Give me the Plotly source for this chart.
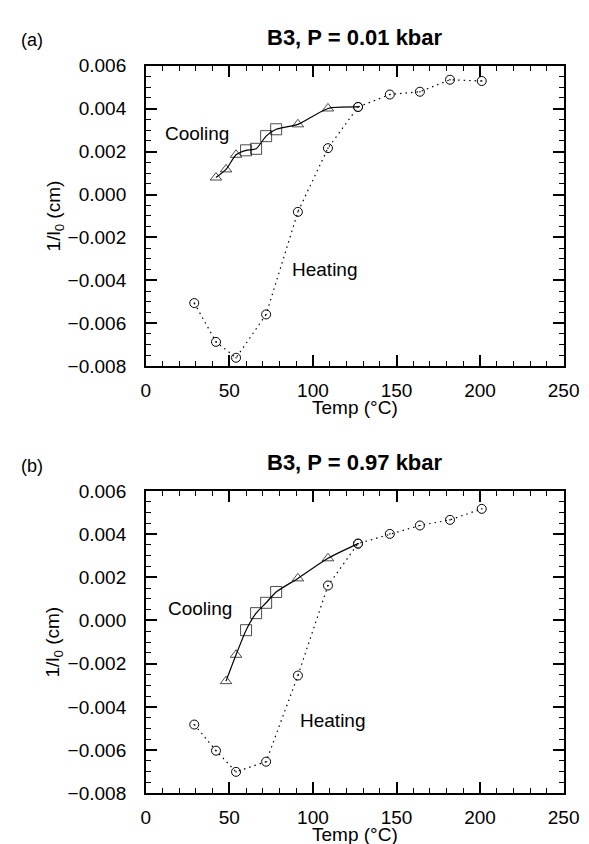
import plotly.graph_objects as go

# ---------------- data ----------------
# Panel (a): P = 0.01 kbar
heat_temp_a = [29, 42, 54, 72, 91, 109, 127, 146, 164, 182, 201]
heat_val_a = [-0.00506, -0.00687, -0.00761, -0.00559, -0.00081, 0.00216,
              0.00408, 0.00466, 0.00479, 0.00535, 0.00529]
cool_temp_a = [42, 48, 54, 60, 66, 72, 78, 91, 109, 127]
cool_val_a = [0.00079, 0.00117, 0.00185, 0.00206, 0.00213, 0.00272, 0.00304,
              0.00327, 0.00401, 0.00408]
cool_kind_a = ["tri", "tri", "tri", "sq", "sq", "sq", "sq", "tri", "tri", "end"]

# Panel (b): P = 0.97 kbar
heat_temp_b = [29, 42, 54, 72, 91, 109, 127, 146, 164, 182, 201]
heat_val_b = [-0.00482, -0.00603, -0.00701, -0.00654, -0.00255, 0.00162,
              0.00356, 0.00401, 0.00440, 0.00466, 0.00517]
cool_temp_b = [48, 54, 60, 66, 72, 78, 91, 109, 127]
cool_val_b = [-0.00281, -0.00159, -0.00045, 0.00034, 0.00082, 0.00132,
              0.00195, 0.00288, 0.00356]
cool_kind_b = ["tri", "tri", "sq", "sq", "sq", "sq", "tri", "tri", "end"]

titles = ["B3, P = 0.01 kbar", "B3, P = 0.97 kbar"]
panel_tags = ["(a)", "(b)"]
x_tick_step = 50
x_minor_step = 10
y_tick_step = 0.002
y_minor_step = 0.0005

# ---------------- layout ----------------
W, H = 589, 844
FONT = "Liberation Sans, Arial, sans-serif"
x0_px, x1_px = 137.7, 571.0
panels_px = [(49, 357), (485, 795)]  # (top, bottom) in pixels

sym_map = {"tri": "triangle-up-open", "sq": "square-open", "end": "circle-open-dot"}
size_map = {"tri": 10, "sq": 11, "end": 9}

fig = go.Figure()

data = [
    (heat_temp_a, heat_val_a, cool_temp_a, cool_val_a, cool_kind_a,
     (30.5, 0.00285), (107, -0.0035)),
    (heat_temp_b, heat_val_b, cool_temp_b, cool_val_b, cool_kind_b,
     (32.5, 0.00054), (112, -0.00465)),
]

annotations = []
for i, (ht, hv, ct, cv, ck, cpos, hpos) in enumerate(data):
    xa = "x" if i == 0 else "x2"
    ya = "y" if i == 0 else "y2"
    fig.add_trace(go.Scatter(
        x=ht, y=hv, mode="lines+markers", xaxis=xa, yaxis=ya,
        line=dict(color="black", width=1.2, dash="1.5px,4px"),
        marker=dict(symbol="circle-open-dot", size=9, color="black",
                    line=dict(width=1, color="black")),
        showlegend=False))
    fig.add_trace(go.Scatter(
        x=ct, y=cv, mode="lines", xaxis=xa, yaxis=ya,
        line=dict(color="black", width=1.2, shape="spline", smoothing=0.6),
        showlegend=False))
    fig.add_trace(go.Scatter(
        x=ct, y=cv, mode="markers", xaxis=xa, yaxis=ya,
        marker=dict(symbol=[sym_map[k] for k in ck],
                    size=[size_map[k] for k in ck], color="black",
                    line=dict(width=1, color="black")),
        showlegend=False))

    top, bot = panels_px[i]
    annotations.append(dict(text="<b>" + titles[i] + "</b>", x=(x0_px + x1_px) / 2 / W,
                            y=1 - (top - 29) / H, xref="paper", yref="paper",
                            showarrow=False, font=dict(family=FONT, size=22, color="black"),
                            xanchor="center", yanchor="middle"))
    annotations.append(dict(text=panel_tags[i], x=20 / W, y=1 - (top - 26) / H,
                            xref="paper", yref="paper", showarrow=False,
                            font=dict(family=FONT, size=18, color="black"),
                            xanchor="center", yanchor="middle"))
    annotations.append(dict(text="Temp (°C)", x=(x0_px + x1_px) / 2 / W,
                            y=1 - (bot + 42) / H, xref="paper", yref="paper",
                            showarrow=False, font=dict(family=FONT, size=19, color="black"),
                            xanchor="center", yanchor="middle"))
    annotations.append(dict(text="1/l<sub>0</sub> (cm)", x=43 / W,
                            y=1 - (top + bot) / 2 / H, xref="paper", yref="paper",
                            showarrow=False, textangle=-90,
                            font=dict(family=FONT, size=19, color="black"),
                            xanchor="center", yanchor="middle"))
    annotations.append(dict(text="Cooling", x=cpos[0], y=cpos[1], xref=xa, yref=ya,
                            showarrow=False, font=dict(family=FONT, size=19, color="black"),
                            xanchor="center", yanchor="middle"))
    annotations.append(dict(text="Heating", x=hpos[0], y=hpos[1], xref=xa, yref=ya,
                            showarrow=False, font=dict(family=FONT, size=19, color="black"),
                            xanchor="center", yanchor="middle"))

def xaxis_cfg(i):
    return dict(
        domain=[x0_px / W, x1_px / W], range=[0, 250],
        anchor="y" if i == 0 else "y2",
        tickmode="linear", tick0=0, dtick=x_tick_step,
        ticks="inside", ticklen=11, tickwidth=1.6, tickcolor="black",
        minor=dict(ticks="inside", ticklen=5, tickwidth=1.2, dtick=x_minor_step,
                   tick0=0, tickcolor="black"),
        showline=True, linecolor="black", linewidth=1.5, mirror="allticks",
        showgrid=False, zeroline=False, ticklabelstandoff=6,
        tickfont=dict(family=FONT, size=19, color="black"))

def yaxis_cfg(i):
    top, bot = panels_px[i]
    return dict(
        domain=[1 - bot / H, 1 - top / H], range=[-0.008, 0.006],
        anchor="x" if i == 0 else "x2",
        tickmode="linear", tick0=0, dtick=y_tick_step, tickformat=".3f",
        ticks="inside", ticklen=11, tickwidth=1.6, tickcolor="black",
        minor=dict(ticks="inside", ticklen=5, tickwidth=1.2, dtick=y_minor_step,
                   tick0=0, tickcolor="black"),
        showline=True, linecolor="black", linewidth=1.5, mirror="allticks",
        showgrid=False, zeroline=False, ticklabelstandoff=14,
        tickfont=dict(family=FONT, size=19, color="black"))

fig.update_layout(
    width=W, height=H,
    margin=dict(l=0, r=0, t=0, b=0),
    paper_bgcolor="white", plot_bgcolor="white",
    xaxis=xaxis_cfg(0), yaxis=yaxis_cfg(0),
    xaxis2=xaxis_cfg(1), yaxis2=yaxis_cfg(1),
    annotations=annotations,
    font=dict(family=FONT, color="black"),
)

fig.write_html("out.html")
